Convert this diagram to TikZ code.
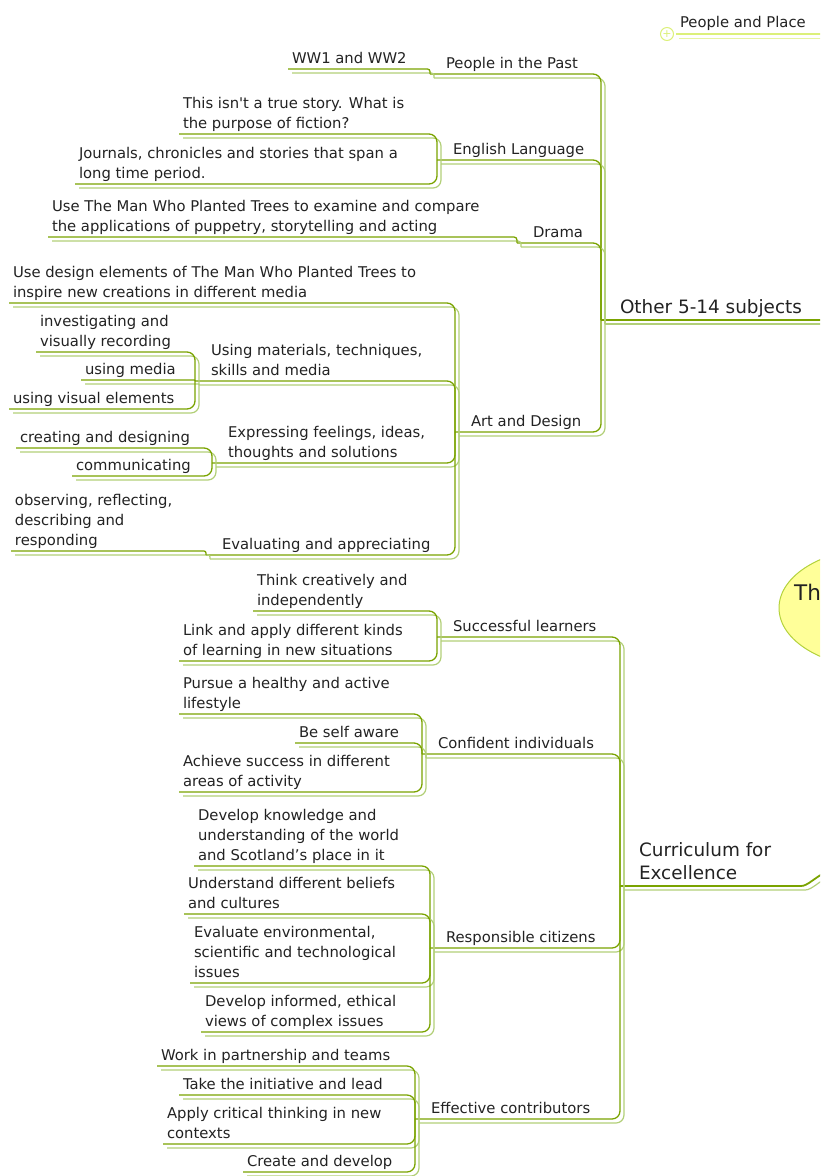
\documentclass[tikz,border=0pt]{standalone}
\usepackage{fontspec}
\setmainfont{DejaVu Sans}
\usepackage{tikz}
\usetikzlibrary{shapes.geometric}
\definecolor{darkline}{HTML}{7AA300}
\definecolor{lightline}{HTML}{B2CF78}
\definecolor{textgray}{HTML}{222222}
\definecolor{foldline}{HTML}{DCF07A}
\definecolor{rootfill}{HTML}{FFFF99}
\definecolor{rootline}{HTML}{B4D23C}
\begin{document}
\begin{tikzpicture}[x=1pt,y=-1pt,
    txt/.style={anchor=south west,inner xsep=4pt,inner ysep=0pt,outer sep=0pt,text depth=5.5pt,align=left,text=textgray,font=\fontsize{14.8}{20}\selectfont},
    hub/.style={txt,inner xsep=16pt},
    topic/.style={txt,inner xsep=19pt,text depth=7pt,font=\fontsize{18.4}{23}\selectfont},
    link/.style={draw=darkline,line width=1.3pt,rounded corners=8pt,preaction={draw=lightline,line width=1.2pt,transform canvas={shift={(4pt,-4pt)}}}},
    folded/.style={draw=foldline,line width=1.3pt,preaction={draw=foldline!70,transform canvas={shift={(3pt,-4pt)}}}},
    rootnode/.style={ellipse,draw=rootline,fill=rootfill,line width=1pt,minimum width=202pt,minimum height=120pt}]
\path[use as bounding box,clip] (0,0) rectangle (820,1176);

\node[rootnode] (root) at (880,608) {};
\node[anchor=base west,inner sep=0pt,text=textgray,font=\fontsize{21.5}{26}\selectfont] (th) at (794,600) {Th};

\node[txt,text depth=7pt] (pp) at (676,34) {People and Place};
\draw[foldline,line width=1pt] (667,34) circle (6.5);
\node[inner sep=0pt,text=foldline,font=\fontsize{11}{11}\selectfont] (plus) at (667,34) {+};
\coordinate (ppend) at (830,34);
\draw[folded] (pp.south west) -- (ppend);

\node[topic] (oth) at (601,320) {Other 5-14 subjects};
\node[hub] (past) at (430,74) {People in the Past};
\node[txt] (ww) at (288,69) {WW1 and WW2};
\node[hub] (eng) at (437,160) {English Language};
\node[txt] (fic) at (179,134) {This isn\textquotesingle t a true story. What is\\the purpose of fiction?};
\node[txt] (jour) at (75,184) {Journals, chronicles and stories that span a\\long time period.};
\node[hub] (drama) at (517,243) {Drama};
\node[txt] (pup) at (48,237) {Use The Man Who Planted Trees to examine and compare\\the applications of puppetry, storytelling and acting};
\node[hub] (art) at (455,432) {Art and Design};
\node[txt] (insp) at (9,303) {Use design elements of The Man Who Planted Trees to\\inspire new creations in different media};
\node[hub] (mat) at (195,381) {Using materials, techniques,\\skills and media};
\node[txt] (inv) at (36,352) {investigating and\\visually recording};
\node[txt] (med) at (81,380) {using media};
\node[txt] (vis) at (9,409) {using visual elements};
\node[hub] (expr) at (212,463) {Expressing feelings, ideas,\\thoughts and solutions};
\node[txt] (cre) at (16,448) {creating and designing};
\node[txt] (com) at (72,476) {communicating};
\node[hub] (eval) at (206,555) {Evaluating and appreciating};
\node[txt] (obs) at (11,551) {observing, reflecting,\\describing and\\responding};

\node[topic] (cfe) at (620,886) {Curriculum for\\Excellence};
\node[hub] (succ) at (437,637) {Successful learners};
\node[txt] (thk) at (253,611) {Think creatively and\\independently};
\node[txt] (lnk) at (179,661) {Link and apply different kinds\\of learning in new situations};
\node[hub] (conf) at (422,754) {Confident individuals};
\node[txt] (hlth) at (179,714) {Pursue a healthy and active\\lifestyle};
\node[txt] (aware) at (295,743) {Be self aware};
\node[txt] (ach) at (179,792) {Achieve success in different\\areas of activity};
\node[hub] (resp) at (430,948) {Responsible citizens};
\node[txt] (know) at (194,866) {Develop knowledge and\\understanding of the world\\and Scotland’s place in it};
\node[txt] (bel) at (184,914) {Understand different beliefs\\and cultures};
\node[txt] (env) at (190,983) {Evaluate environmental,\\scientific and technological\\issues};
\node[txt] (eth) at (201,1032) {Develop informed, ethical\\views of complex issues};
\node[hub] (eff) at (415,1119) {Effective contributors};
\node[txt] (team) at (157,1066) {Work in partnership and teams};
\node[txt] (init) at (179,1095) {Take the initiative and lead};
\node[txt] (crit) at (163,1144) {Apply critical thinking in new\\contexts};
\node[txt] (dev) at (243,1172) {Create and develop};

\coordinate (othend) at (830,320);
\coordinate (cfeend) at (828,871);
\draw[link,line width=1.8pt] (oth.south west) -- (othend);
\draw[link,line width=1.8pt] (cfe.south west) -- ++(173,0) to[out=0,in=205] (cfeend);

\draw[link] (past.south west) -| (oth.south west);
\draw[link] (eng.south west) -| (oth.south west);
\draw[link] (drama.south west) -| (oth.south west);
\draw[link] (art.south west) -| (oth.south west);
\draw[link,rounded corners=2.5pt] (ww.south west) -| (past.south west);
\draw[link] (fic.south west) -| (eng.south west);
\draw[link] (jour.south west) -| (eng.south west);
\draw[link,rounded corners=3pt] (pup.south west) -| (drama.south west);
\draw[link] (insp.south west) -| (art.south west);
\draw[link] (mat.south west) -| (art.south west);
\draw[link] (expr.south west) -| (art.south west);
\draw[link] (eval.south west) -| (art.south west);
\draw[link] (inv.south west) -| (mat.south west);
\draw[link,rounded corners=0.5pt] (med.south west) -| (mat.south west);
\draw[link] (vis.south west) -| (mat.south west);
\draw[link] (cre.south west) -| (expr.south west);
\draw[link] (com.south west) -| (expr.south west);
\draw[link,rounded corners=2pt] (obs.south west) -| (eval.south west);

\draw[link] (succ.south west) -| (cfe.south west);
\draw[link] (conf.south west) -| (cfe.south west);
\draw[link] (resp.south west) -| (cfe.south west);
\draw[link] (eff.south west) -| (cfe.south west);
\draw[link] (thk.south west) -| (succ.south west);
\draw[link] (lnk.south west) -| (succ.south west);
\draw[link] (hlth.south west) -| (conf.south west);
\draw[link] (aware.south west) -| (conf.south west);
\draw[link] (ach.south west) -| (conf.south west);
\draw[link] (know.south west) -| (resp.south west);
\draw[link] (bel.south west) -| (resp.south west);
\draw[link] (env.south west) -| (resp.south west);
\draw[link] (eth.south west) -| (resp.south west);
\draw[link] (team.south west) -| (eff.south west);
\draw[link] (init.south west) -| (eff.south west);
\draw[link] (crit.south west) -| (eff.south west);
\draw[link] (dev.south west) -| (eff.south west);
\end{tikzpicture}
\end{document}
